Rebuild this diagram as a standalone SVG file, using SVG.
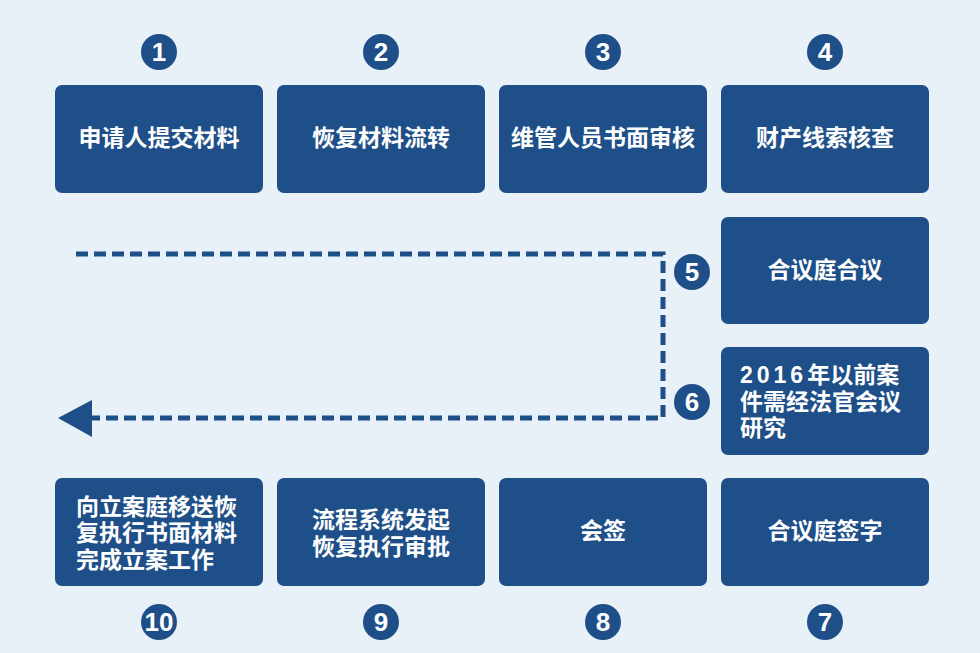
<svg xmlns="http://www.w3.org/2000/svg" width="980" height="653" viewBox="0 0 980 653">
<style>
.box{fill:#1f4f88;}
.t{fill:#ffffff;font-family:"Noto Sans CJK SC","Liberation Sans",sans-serif;font-size:23px;font-weight:bold;}
.d{font-family:"Liberation Sans","Noto Sans CJK SC",sans-serif;letter-spacing:4px;}
.n{fill:#ffffff;font-family:"Liberation Sans","Noto Sans",sans-serif;font-size:26px;font-weight:bold;text-anchor:middle;}
.c{fill:#1f4f88;}
.m{text-anchor:middle;}
</style>
<rect x="0" y="0" width="980" height="653" fill="#e9f1f8"/>
<g id="connectors">
<path d="M76 254 H663 V418 H90" fill="none" stroke="#1f4f88" stroke-width="5" stroke-dasharray="12 6"/>
<polygon points="58,418 92,400 92,437" fill="#1f4f88"/>
</g>
<g id="n1"><circle class="c" cx="159" cy="52" r="18"/><text class="n" x="159" y="61">1</text><rect class="box" x="55" y="85" width="208" height="108" rx="7"/><text class="t m" x="159" y="146">申请人提交材料</text></g>
<g id="n2"><circle class="c" cx="381" cy="52" r="18"/><text class="n" x="381" y="61">2</text><rect class="box" x="277" y="85" width="208" height="108" rx="7"/><text class="t m" x="381" y="146">恢复材料流转</text></g>
<g id="n3"><circle class="c" cx="603" cy="52" r="18"/><text class="n" x="603" y="61">3</text><rect class="box" x="499" y="85" width="208" height="108" rx="7"/><text class="t m" x="603" y="146">维管人员书面审核</text></g>
<g id="n4"><circle class="c" cx="825" cy="52" r="18"/><text class="n" x="825" y="61">4</text><rect class="box" x="721" y="85" width="208" height="108" rx="7"/><text class="t m" x="825" y="146">财产线索核查</text></g>
<g id="n5"><circle class="c" cx="692" cy="272" r="18"/><text class="n" x="692" y="281">5</text><rect class="box" x="721" y="217" width="208" height="107" rx="7"/><text class="t m" x="825" y="278">合议庭合议</text></g>
<g id="n6"><circle class="c" cx="692" cy="402" r="18"/><text class="n" x="692" y="411">6</text><rect class="box" x="721" y="347" width="208" height="108" rx="7"/><text class="t" x="740" y="383"><tspan class="d">2016</tspan>年以前案</text><text class="t" x="740" y="410">件需经法官会议</text><text class="t" x="740" y="436">研究</text></g>
<g id="n7"><circle class="c" cx="825" cy="622" r="18"/><text class="n" x="825" y="631">7</text><rect class="box" x="721" y="478" width="208" height="108" rx="7"/><text class="t m" x="825" y="539">合议庭签字</text></g>
<g id="n8"><circle class="c" cx="603" cy="622" r="18"/><text class="n" x="603" y="631">8</text><rect class="box" x="499" y="478" width="208" height="108" rx="7"/><text class="t m" x="603" y="539">会签</text></g>
<g id="n9"><circle class="c" cx="381" cy="622" r="18"/><text class="n" x="381" y="631">9</text><rect class="box" x="277" y="478" width="208" height="108" rx="7"/><text class="t m" x="381" y="528">流程系统发起</text><text class="t m" x="381" y="555">恢复执行审批</text></g>
<g id="n10"><circle class="c" cx="159" cy="622" r="18"/><text class="n" x="159" y="631">10</text><rect class="box" x="55" y="478" width="208" height="108" rx="7"/><text class="t" x="76" y="515">向立案庭移送恢</text><text class="t" x="76" y="541">复执行书面材料</text><text class="t" x="76" y="568">完成立案工作</text></g>
</svg>
